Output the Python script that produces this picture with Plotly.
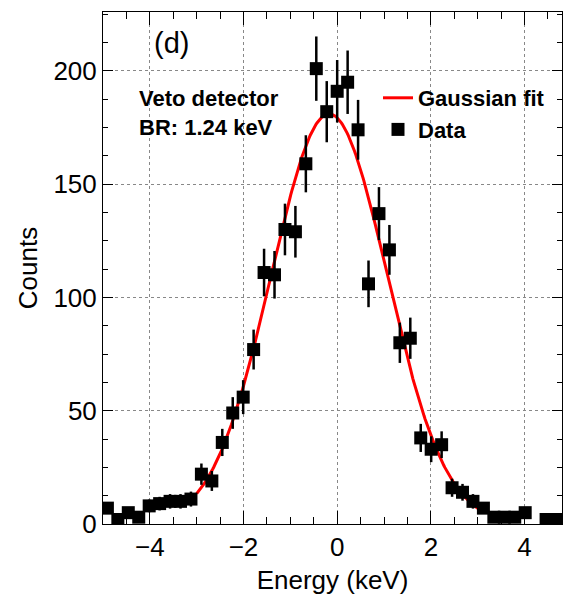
import numpy as np
import plotly.graph_objects as go

# ---- data ----
BIN_WIDTH = 0.223  # keV
bin_index = list(range(-22, 22))
counts = [7, 2, 5, 3, 8, 9, 10, 10, 11, 22, 19, 36, 49, 56, 77, 111, 110,
          130, 129, 159, 201, 182, 191, 195, 174, 106, 137, 121, 80, 82,
          38, 33, 35, 16, 14, 10, 7, 3, 3, 3, 5, 0, 2, 2]
count_err = [2.6, 1.4, 2.2, 1.7, 2.8, 3.0, 3.2, 3.2, 3.3, 4.7, 4.4, 6.0, 7.0,
             7.5, 8.8, 10.5, 10.5, 11.4, 11.4, 12.6, 14.2, 13.5, 13.8, 14.0,
             13.2, 10.3, 11.7, 11.0, 8.9, 9.1, 6.2, 5.7, 5.9, 4.0, 3.7, 3.2,
             2.6, 1.7, 1.7, 1.7, 2.2, 0.0, 1.4, 1.4]

# Gaussian fit parameters
fit_amp = 181.0
fit_mean = -0.17
fit_sigma = 1.24
fit_range = (-3.0, 3.0)

x_ticks = [-4, -2, 0, 2, 4]
y_ticks = [0, 50, 100, 150, 200]

# ---- derived ----
energy = [k * BIN_WIDTH for k in bin_index]
pts = [(e, c, s) for e, c, s in zip(energy, counts, count_err) if c > 0]
px = [p[0] for p in pts]
py = [p[1] for p in pts]
pe = [p[2] for p in pts]

xf = np.linspace(fit_range[0], fit_range[1], 300)
yf = fit_amp * np.exp(-0.5 * ((xf - fit_mean) / fit_sigma) ** 2)

FONT = "Liberation Sans, Arial, Helvetica, sans-serif"

fig = go.Figure()
fig.add_trace(go.Scatter(
    x=xf, y=yf, mode="lines", name="Gaussian fit",
    line=dict(color="#ff0000", width=3),
))
fig.add_trace(go.Scatter(
    x=px, y=py, mode="markers", name="Data",
    marker=dict(symbol="square", size=13, color="black"),
    error_y=dict(type="data", array=pe, visible=True, color="black",
                 thickness=2.5, width=0),
))

fig.update_layout(
    width=566, height=601,
    margin=dict(l=103, r=4, t=12, b=77),
    paper_bgcolor="white", plot_bgcolor="white",
    font=dict(family=FONT, size=26, color="black"),
    showlegend=True,
    legend=dict(
        x=(378 - 103) / 459, y=(524 - 77) / 512, xanchor="left", yanchor="top",
        bgcolor="rgba(0,0,0,0)", borderwidth=0,
        font=dict(family=FONT, size=22, color="black", weight="bold"),
        itemwidth=30, traceorder="normal", tracegroupgap=0,
    ),
    annotations=[
        dict(text="(d)", x=(171 - 103) / 459, y=(524 - 43) / 512,
             xref="paper", yref="paper", showarrow=False,
             xanchor="center", yanchor="middle",
             font=dict(family=FONT, size=29, color="black")),
        dict(text="Veto detector", x=(137 - 103) / 459, y=(524 - 98) / 512,
             xref="paper", yref="paper", showarrow=False,
             xanchor="left", yanchor="middle",
             font=dict(family=FONT, size=22, color="black", weight="bold")),
        dict(text="BR: 1.24 keV", x=(137 - 103) / 459, y=(524 - 127) / 512,
             xref="paper", yref="paper", showarrow=False,
             xanchor="left", yanchor="middle",
             font=dict(family=FONT, size=22, color="black", weight="bold")),
    ],
)

fig.update_xaxes(
    range=[-5, 4.8], tickvals=x_ticks, ticks="inside", ticklen=13,
    tickwidth=1, tickcolor="black",
    showline=True, linecolor="black", linewidth=1, mirror="ticks",
    showgrid=True, gridcolor="#888888", griddash="dot", gridwidth=1,
    zeroline=False,
    minor=dict(dtick=0.5, tick0=0, ticks="inside", ticklen=7,
               tickcolor="black", showgrid=False),
    tickfont=dict(family=FONT, size=26, color="black"),
    title=dict(text="Energy (keV)", font=dict(family=FONT, size=26),
               standoff=9),
)
fig.update_yaxes(
    range=[0, 226], tickvals=y_ticks, ticks="inside", ticklen=10,
    tickwidth=1, tickcolor="black",
    showline=True, linecolor="black", linewidth=1, mirror="ticks",
    showgrid=True, gridcolor="#888888", griddash="dot", gridwidth=1,
    zeroline=False,
    minor=dict(dtick=12.5, tick0=0, ticks="inside", ticklen=5,
               tickcolor="black", showgrid=False),
    tickfont=dict(family=FONT, size=26, color="black"),
    title=dict(text="Counts", font=dict(family=FONT, size=26), standoff=8),
)

fig.write_html("out.html")
